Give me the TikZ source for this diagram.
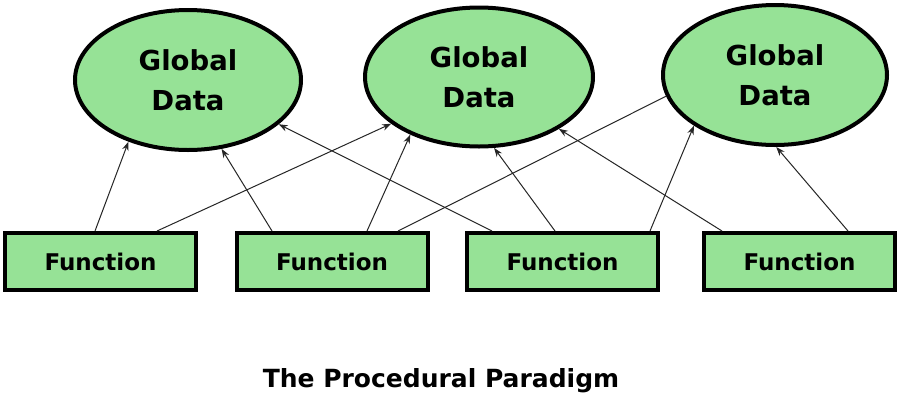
\documentclass[tikz,border=0pt]{standalone}
\usepackage{fontspec}
\setmainfont{DejaVu Sans}
\usetikzlibrary{shapes.geometric,arrows.meta}
\definecolor{boxgreen}{HTML}{96E296}
\begin{document}
\begin{tikzpicture}[x=1pt,y=-1pt,
  datanode/.style={ellipse,draw=black,line width=4pt,fill=boxgreen,inner sep=0pt,
    align=center,font=\bfseries\fontsize{27.5}{40}\selectfont},
  funcnode/.style={rectangle,draw=black,line width=4pt,fill=boxgreen,
    minimum width=191pt,minimum height=57pt,inner sep=0pt,
    font=\bfseries\fontsize{23}{26}\selectfont},
  link/.style={line width=1pt,draw=black!85},
  arr/.style={link,-{Stealth[length=9pt,width=6.5pt]}}]
\useasboundingbox (0,0) rectangle (900,400);
\fill[white] (0,0) rectangle (900,400);

\node[datanode,minimum width=226pt,minimum height=140pt] (e1) at (188,80) {Global\\Data};
\node[datanode,minimum width=228pt,minimum height=139pt] (e2) at (479,77) {Global\\Data};
\node[datanode,minimum width=224pt,minimum height=140pt] (e3) at (775,75) {Global\\Data};

\node[funcnode] (r1) at (100.5,261.5) {Function};
\node[funcnode] (r2) at (332,261.5) {Function};
\node[funcnode] (r3) at (562.5,261.5) {Function};
\node[funcnode] (r4) at (799.5,261.5) {Function};

\draw[arr] ([xshift=-5.5pt]r1.north) -- (e1.226.6);
\draw[arr] ([xshift=56.5pt]r1.north) -- (e2.208.5);
\draw[arr] ([xshift=-60pt]r2.north) -- (e1.296.2);
\draw[arr] ([xshift=-70.5pt]r3.north) -- (e1.334.2);
\draw[arr] ([xshift=35pt]r2.north) -- (e2.220.3);
\draw[link] ([xshift=66pt]r2.north) -- (e3.191.6);
\draw[arr] ([xshift=-7.5pt]r3.north) -- (e2.282.4);
\draw[arr] ([xshift=87.5pt]r3.north) -- (e3.212.1);
\draw[arr] ([xshift=-77.5pt]r4.north) -- (e2.327.3);
\draw[arr] ([xshift=48.5pt]r4.north) -- (e3.271.5);

\node[anchor=base,font=\bfseries\fontsize{25}{28}\selectfont,inner sep=0pt] (title) at (441,387.5) {The Procedural Paradigm};
\end{tikzpicture}
\end{document}
